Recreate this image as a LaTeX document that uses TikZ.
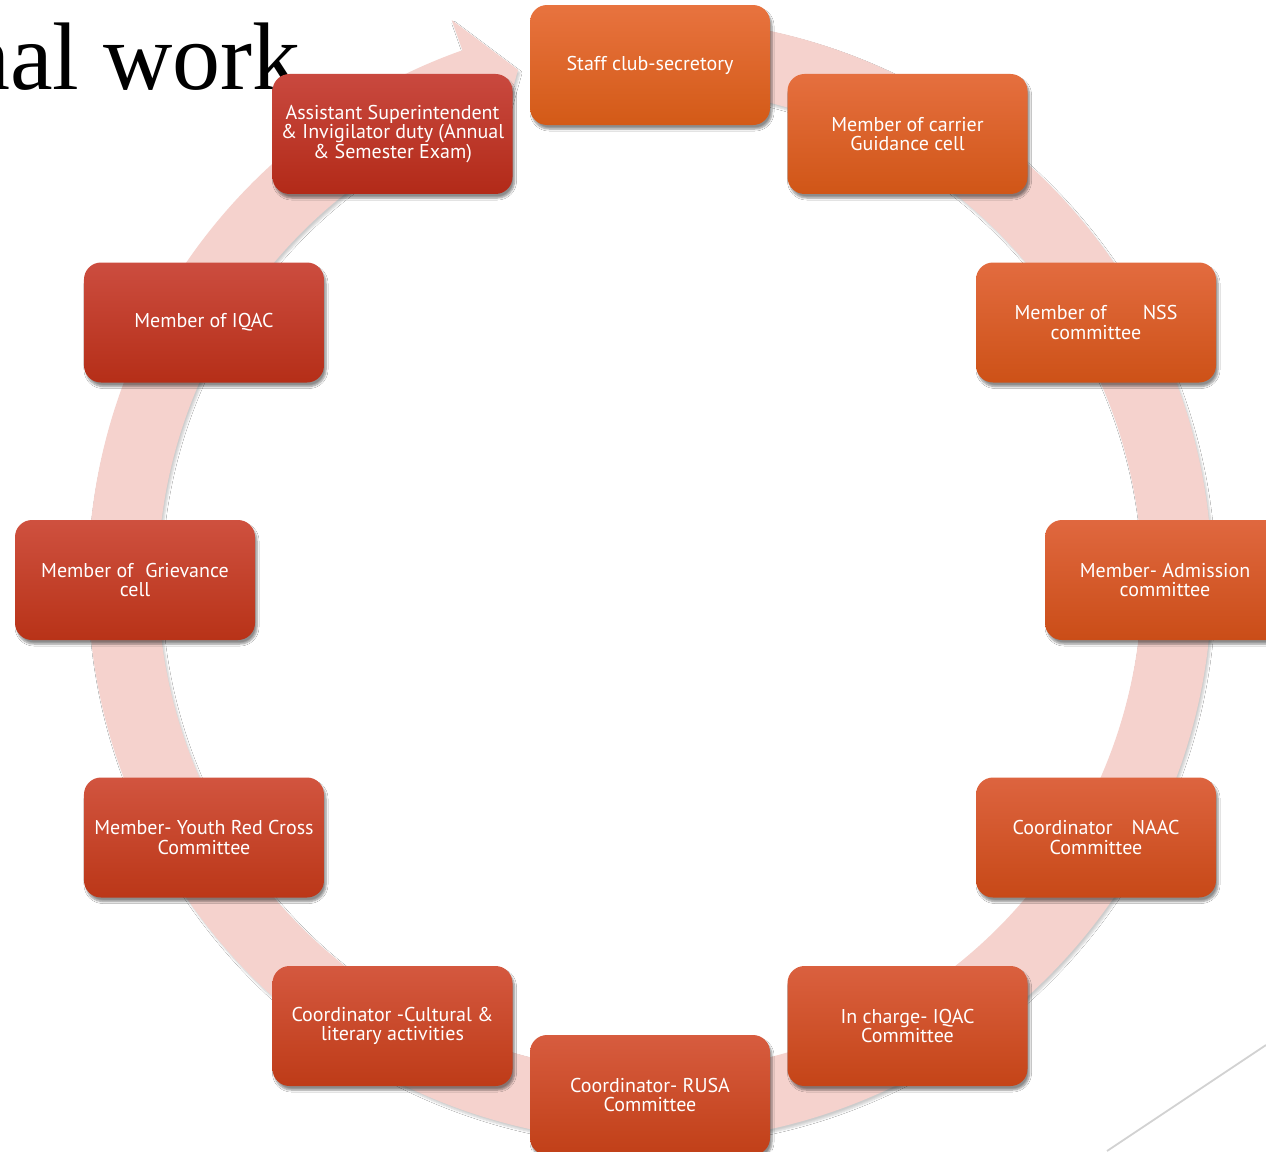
\documentclass[tikz,border=0pt]{standalone}
\usepackage{fontspec}
\setmainfont{PT Sans}
\newfontfamily\titlefont{Liberation Serif}
\usetikzlibrary{shadows,shadows.blur}
\definecolor{ringc}{HTML}{F5D2CD}
\definecolor{topO}{HTML}{E8733F}
\definecolor{botO}{HTML}{D35A17}
\definecolor{topR}{HTML}{C9493F}
\definecolor{botR}{HTML}{B22A18}
\definecolor{linec}{HTML}{D2D2D2}
\begin{document}
\begin{tikzpicture}[x=1pt,y=1pt,
  boxst/.style={rounded corners=17pt, minimum width=240pt, minimum height=120pt,
    inner sep=4pt, align=center, text=white,
    font=\fontsize{20}{19.5}\selectfont,
    blur shadow={shadow xshift=2pt, shadow yshift=-4pt, shadow blur steps=6, shadow opacity=45}},
  ringst/.style={fill=ringc, blur shadow={shadow xshift=2pt, shadow yshift=-3pt, shadow blur steps=5, shadow opacity=20}},
  titlest/.style={anchor=base east, inner sep=0pt, font=\titlefont\fontsize{96}{96}\selectfont}]
\useasboundingbox (0,0) rectangle (1266,-1151);
\clip (0,0) rectangle (1266,-1151);
\fill[white] (0,0) rectangle (1266,-1151);
\node[titlest] (title) at (301,-89) {nal work};
\coordinate (la) at (1266,-1045);
\coordinate (lb) at (1107,-1151);
\draw[linec, line width=1.8pt] (la) -- (lb);
\begin{scope}[shift={(650,-580)}]
\path[ringst] (85:562) arc[start angle=85, end angle=-250.5, radius=562]
   -- (109.5:594) -- (104.5:527) -- (109.5:460) -- (109.5:492)
   arc[start angle=-250.5, end angle=85, radius=492] -- cycle;
\foreach \k/\txt in {
  0/{Staff club-secretory},
  1/{Member of carrier\\Guidance cell},
  2/{Member of\hspace{36pt}NSS\\committee},
  3/{Member- Admission\\committee},
  4/{Coordinator\hspace{19pt}NAAC\\Committee},
  5/{In charge- IQAC\\Committee},
  6/{Coordinator- RUSA\\Committee},
  7/{Coordinator -Cultural \&\\literary activities},
  8/{Member- Youth Red Cross\\Committee},
  9/{Member of\hspace{12pt}Grievance\\cell},
  10/{Member of IQAC},
  11/{Assistant Superintendent\\\& Invigilator duty (Annual\\\& Semester Exam)}}{
  \pgfmathtruncatemacro{\pc}{round(\k*100/11)}
  \colorlet{tc}{topR!\pc!topO}
  \colorlet{bc}{botR!\pc!botO}
  \pgfmathsetmacro{\ang}{90-30*\k}
  \node[boxst, top color=tc, bottom color=bc] (b\k) at (\ang:515) {\txt};
}
\end{scope}
\end{tikzpicture}
\end{document}
